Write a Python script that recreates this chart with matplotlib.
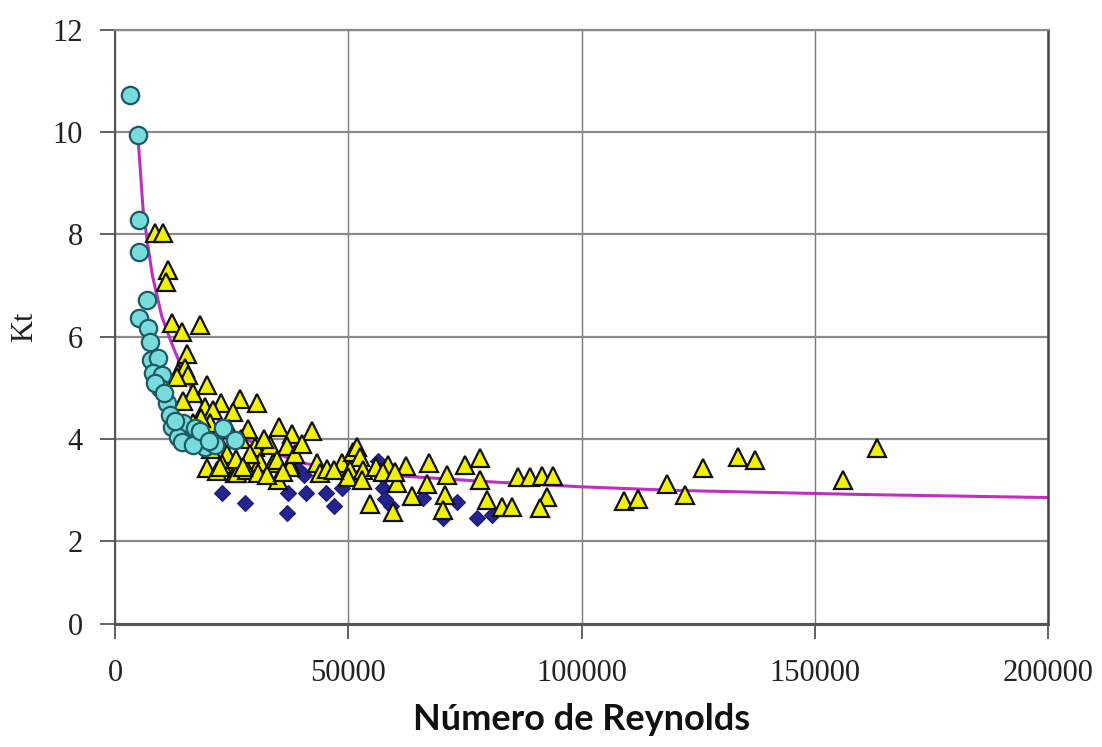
import matplotlib.pyplot as plt
import numpy as np

# cyan circles
circ_re = [3200, 4900, 5150, 5150, 6900, 5100, 7100, 7500, 7700, 9200, 8200, 10100, 9700,
           11100, 11800, 12200, 14600, 13500, 16100, 17200, 19300, 21000, 23200, 25700,
           14400, 16700, 21400, 8600, 10600, 12800, 18200, 20200]
circ_kt = [10.72, 9.94, 8.28, 7.65, 6.71, 6.36, 6.16, 5.90, 5.54, 5.58, 5.28, 5.25, 5.00,
           4.70, 4.46, 4.23, 4.31, 4.03, 3.92, 4.21, 3.84, 3.92, 4.21, 3.97,
           3.94, 3.88, 3.88, 5.10, 4.90, 4.35, 4.15, 3.95]

# yellow triangles
tri_re = [8600, 10300, 11400, 10900, 12200, 14400, 18200,
          15400, 13500, 15000, 15600, 13300,
          16700, 19700, 14600, 22800, 26800, 30400, 19300, 21000, 25200, 20400, 16700,
          28400, 35200, 37900, 42200,
          30000, 33200, 36900, 29600, 31100, 33900, 34700, 37500, 37500, 43300, 44000,
          19700, 21900, 25700, 26100, 28300, 30700, 34900,
          48700, 51000, 51800, 52500, 50400, 53100, 50000, 53000, 54700,
          58500, 62400, 67300, 71200, 75000, 78300, 60400, 66900, 63700, 70800, 78300,
          79800, 59500, 70300, 83000, 85100, 86400, 89000, 91500, 93900, 92600, 91100,
          109200, 112200, 118400, 122200, 126100, 133600, 137200, 156100, 163400,
          22000, 24000, 27000, 23000, 18500, 24500, 29000, 32000, 26000, 20500,
          38500, 40000, 45500, 27500, 32500, 36000, 22500, 17800, 56000, 57500, 60000, 47000]
tri_kt = [8.02, 8.02, 7.30, 7.06, 6.26, 6.09, 6.22,
          5.65, 5.28, 5.38, 5.25, 5.20,
          4.90, 5.05, 4.74, 4.71, 4.78, 4.70, 4.62, 4.56, 4.52, 4.31, 4.31,
          4.20, 4.24, 4.09, 4.15,
          3.84, 3.88, 3.86, 3.58, 3.54, 3.52, 3.58, 3.50, 3.45, 3.52, 3.34,
          3.42, 3.36, 3.33, 3.33, 3.39, 3.33, 3.19,
          3.52, 3.75, 3.84, 3.64, 3.39, 3.39, 3.25, 3.19, 2.72,
          3.48, 3.46, 3.52, 3.29, 3.49, 3.62, 3.13, 3.12, 2.88, 2.90, 3.19,
          2.80, 2.57, 2.61, 2.66, 2.66, 3.25, 3.25, 3.27, 3.27, 2.86, 2.65,
          2.78, 2.82, 3.11, 2.90, 3.43, 3.64, 3.58, 3.19, 3.82,
          4.00, 3.70, 4.00, 3.50, 4.40, 4.20, 3.70, 4.00, 3.60, 3.80,
          3.70, 3.90, 3.40, 3.45, 3.30, 3.35, 3.45, 4.05, 3.45, 3.35, 3.35, 3.38]

# navy diamonds
dia_re = [23000, 27900, 26400, 36900, 37000, 41000, 45200, 47000, 39200, 48700, 56300,
          57500, 57500, 57900, 59200, 66000, 70300, 73300, 77600, 80800, 40500]
dia_kt = [2.94, 2.74, 3.52, 2.55, 2.94, 2.94, 2.94, 2.68, 3.41, 3.04, 3.57,
          3.04, 3.25, 2.82, 2.68, 2.84, 2.45, 2.76, 2.45, 2.51, 3.30]

# fitted curve
fit_re = [5000, 6000, 7000, 8000, 9000, 10000, 12000, 14000, 16000, 18000, 20000, 25000,
          30000, 35000, 40000, 50000, 60000, 70000, 80000, 100000, 120000, 140000,
          160000, 180000, 200000]
fit_kt = [9.80, 8.50, 7.80, 7.20, 6.80, 6.40, 5.90, 5.45, 5.05, 4.75, 4.55, 4.15,
          3.90, 3.70, 3.53, 3.37, 3.28, 3.22, 3.16, 3.06, 2.99, 2.95,
          2.91, 2.88, 2.85]

x_ticks = [0, 50000, 100000, 150000, 200000]
y_ticks = [0, 2, 4, 6, 8, 10, 12]


# the picture squeezes the 0-2 band a little; mimic it
def fwd(y):
    y = np.asarray(y, dtype=float)
    return np.where(y < 2, y * 0.812, 1.624 + (y - 2))


def inv(v):
    v = np.asarray(v, dtype=float)
    return np.where(v < 1.624, v / 0.812, 2 + (v - 1.624))


fig = plt.figure(figsize=(11.02, 7.47), dpi=100)
ax = fig.add_axes([0.1044, 0.1647, 0.8466, 0.7951])
ax.set_yscale('function', functions=(fwd, inv))

ax.plot(fit_re, fit_kt, color='#c02ec0', linewidth=2.2, zorder=2)
ax.plot(dia_re, dia_kt, linestyle='none', marker='D', markersize=8,
        markerfacecolor='#24248f', markeredgecolor='#1a1a70', markeredgewidth=0.8, zorder=3)
ax.plot(tri_re, tri_kt, linestyle='none', marker='^', markersize=12.5,
        markerfacecolor='#f2f200', markeredgecolor='#111111', markeredgewidth=1.6, zorder=4)
ax.plot(circ_re, circ_kt, linestyle='none', marker='o', markersize=12.5,
        markerfacecolor='#78dcdc', markeredgecolor='#1d5a66', markeredgewidth=1.6, zorder=5)

ax.set_xlim(0, 200000)
ax.set_ylim(0, 12)
ax.set_xticks(x_ticks)
ax.set_yticks(y_ticks)
ax.set_xticklabels([str(t) for t in x_ticks])
ax.set_yticklabels([str(t) for t in y_ticks])
ax.minorticks_off()

ax.grid(True, axis='y', color='#8a8a8a', linewidth=1.6, zorder=0)
ax.grid(True, axis='x', color='#7a7a7a', linewidth=1.0, zorder=0)
ax.set_axisbelow(True)

ax.spines['left'].set_color('#555555')
ax.spines['left'].set_linewidth(1.5)
ax.spines['bottom'].set_color('#555555')
ax.spines['bottom'].set_linewidth(2.2)
ax.spines['right'].set_color('#444444')
ax.spines['right'].set_linewidth(1.8)
ax.spines['top'].set_color('#8a8a8a')
ax.spines['top'].set_linewidth(1.6)

ax.tick_params(direction='out', length=11, width=1.3, color='#555555',
               labelsize=22, labelcolor='#222222')
ax.tick_params(axis='x', pad=14)
ax.tick_params(axis='y', pad=12)
for lab in ax.get_xticklabels() + ax.get_yticklabels():
    lab.set_family('Liberation Serif')

ax.set_ylabel('Kt', family='Liberation Serif', fontsize=22, color='#222222', labelpad=10)
ax.set_xlabel('Número de Reynolds', family='Lato', fontweight='bold', fontsize=26,
              color='#111111', labelpad=11)

plt.savefig('out.png', dpi=100)
